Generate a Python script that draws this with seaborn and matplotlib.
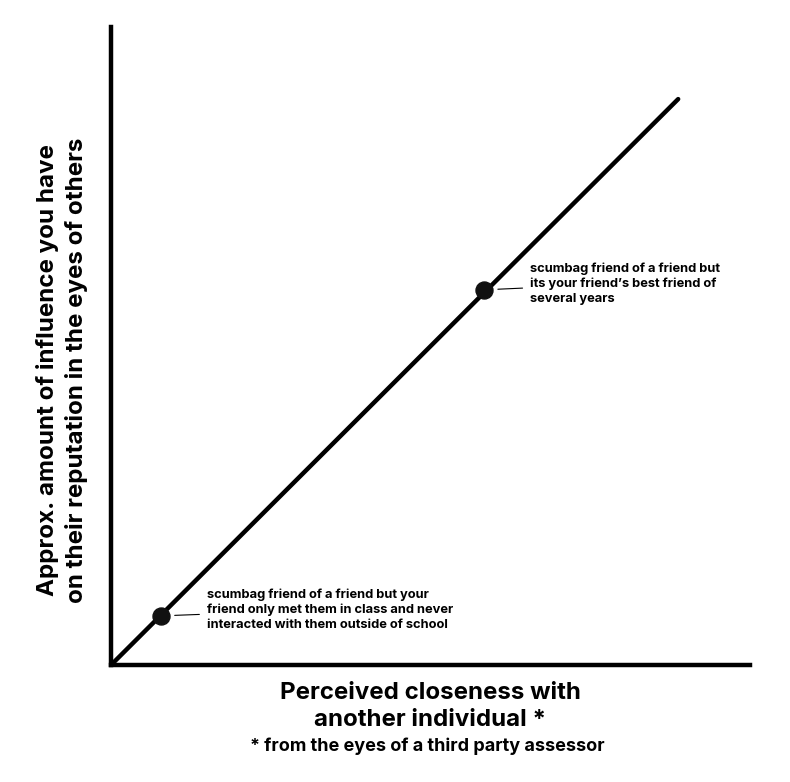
import matplotlib
matplotlib.use("Agg")
import matplotlib.pyplot as plt
import seaborn as sns
import pandas as pd

# =====================================
# DATA
# =====================================

line_x = [0.0, 0.888]
line_y = [0.0, 0.887]

point_x = [0.078, 0.584]
point_y = [0.077, 0.588]
point_labels = [
    "scumbag friend of a friend but your\nfriend only met them in class and never\ninteracted with them outside of school",
    "scumbag friend of a friend but\nits your friend\u2019s best friend of\nseveral years",
]

x_label = "Perceived closeness with\nanother individual *"
y_label = "Approx. amount of influence you have\non their reputation in the eyes of others"
footnote = "* from the eyes of a third party assessor"

# =====================================
# STYLE
# =====================================

sns.set_theme(style="white")
plt.rcParams['font.family'] = ['Inter', 'DejaVu Sans']
plt.rcParams['font.weight'] = 'bold'
plt.rcParams['text.color'] = 'black'
plt.rcParams['axes.labelcolor'] = 'black'

fig = plt.figure(figsize=(7.9, 7.82), dpi=100)
ax = fig.add_axes([0.1405, 0.1496, 0.8085, 0.8159])

line_df = pd.DataFrame({"x": line_x, "y": line_y})
pts_df = pd.DataFrame({"x": point_x, "y": point_y})

sns.lineplot(data=line_df, x="x", y="y", color="black", linewidth=3.2, ax=ax)
sns.scatterplot(data=pts_df, x="x", y="y", color="#111111", s=150,
                edgecolor="#111111", zorder=5, ax=ax)

# annotations with short leader lines
for px, py, txt in zip(point_x, point_y, point_labels):
    ax.annotate(
        txt, xy=(px, py), xytext=(px + 0.072, py + 0.010),
        fontsize=9.3, fontweight='bold', va='center', ha='left',
        linespacing=1.3, color='black',
        arrowprops=dict(arrowstyle='-', color='black', lw=0.8,
                        shrinkA=3, shrinkB=10),
    )

ax.set_xlim(0, 1)
ax.set_ylim(0, 1)
ax.set_xticks([])
ax.set_yticks([])
for side in ['top', 'right']:
    ax.spines[side].set_visible(False)
for side in ['left', 'bottom']:
    ax.spines[side].set_linewidth(3.2)
    ax.spines[side].set_color('black')

ax.set_xlabel(x_label, fontsize=17.3, fontweight='bold', labelpad=12,
              linespacing=1.33)
ax.set_ylabel(y_label, fontsize=17.4, fontweight='bold',
              linespacing=1.33)
ax.yaxis.set_label_coords(-0.036, 0.462)

fig.text(0.5415, 0.046, footnote, ha='center', va='center',
         fontsize=13, fontweight='bold')

fig.savefig("out.png", dpi=100, facecolor="white")
